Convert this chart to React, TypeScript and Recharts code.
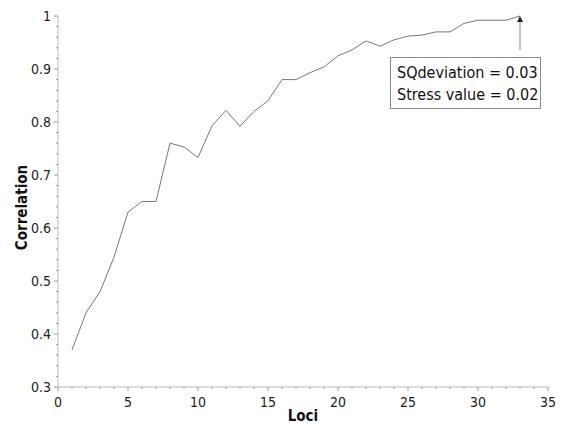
import React from "react";
import { LineChart, Line, XAxis, YAxis, ReferenceLine, ReferenceDot } from "recharts";

// loci count vs correlation
const loci = [1, 2, 3, 4, 5, 6, 7, 8, 9, 10, 11, 12, 13, 14, 15, 16, 17, 18, 19, 20, 21, 22, 23, 24, 25, 26, 27, 28, 29, 30, 31, 32, 33];
const correlation = [
    0.37, 0.44, 0.48, 0.545, 0.63, 0.65, 0.65, 0.76, 0.753, 0.733, 0.793, 0.822, 0.792, 0.82, 0.84, 0.88, 0.88,
    0.893, 0.904, 0.925, 0.936, 0.953, 0.943, 0.955, 0.962, 0.964, 0.97, 0.97, 0.986, 0.992, 0.992, 0.992, 1.0,
];

const xMajor = [0, 5, 10, 15, 20, 25, 30, 35];
const yMajor = [0.3, 0.4, 0.5, 0.6, 0.7, 0.8, 0.9, 1];
const yLabels = ["0.3", "0.4", "0.5", "0.6", "0.7", "0.8", "0.9", "1"];

const annotation = ["SQdeviation = 0.03", "Stress value = 0.02"];

// minor ticks: every 1 on x, every 0.02 on y
const xTicks: number[] = [];
for (let i = 0; i <= 35; i++) xTicks.push(i);
const yTicks: number[] = [];
for (let i = 0; i <= 35; i++) yTicks.push(Math.round((0.3 + i * 0.02) * 100) / 100);

const data = loci.map((l, i) => ({ locus: l, corr: correlation[i] }));

const FONT = "'DejaVu Sans Condensed', 'DejaVu Sans', sans-serif";

const XTick = (props: any) => {
    const { x, y, payload } = props;
    const major = xMajor.includes(payload.value);
    return (
        <g>
            <line x1={x} x2={x} y1={y} y2={y + (major ? 4 : 2)} stroke="#999" />
            {major && (
                <text x={x} y={y + 20} textAnchor="middle" fontSize={14} fill="#222" fontFamily={FONT}>
                    {payload.value}
                </text>
            )}
        </g>
    );
};

const YTick = (props: any) => {
    const { x, y, payload } = props;
    const idx = yMajor.findIndex((v) => Math.abs(v - payload.value) < 1e-6);
    const major = idx >= 0;
    return (
        <g>
            <line x1={x} x2={x - (major ? 4 : 2)} y1={y} y2={y} stroke="#999" />
            {major && (
                <text x={x - 7} y={y + 5} textAnchor="end" fontSize={14} fill="#222" fontFamily={FONT}>
                    {yLabels[idx]}
                </text>
            )}
        </g>
    );
};

const ArrowHead = (props: any) => {
    const { cx, cy } = props;
    return <polygon points={`${cx},${cy} ${cx - 3},${cy + 6} ${cx + 3},${cy + 6}`} fill="#222" />;
};

const App: React.FC = () => {
    return (
        <div style={{ position: "absolute", left: 0, top: 0, width: 563, height: 427, background: "#fff" }}>
            <LineChart width={563} height={427} data={data} margin={{ top: 16, right: 15, left: 0, bottom: 0 }}>
                <XAxis
                    type="number"
                    dataKey="locus"
                    domain={[0, 35]}
                    ticks={xTicks}
                    interval={0}
                    tickLine={false}
                    tickSize={0}
                    tickMargin={0}
                    tick={<XTick />}
                    stroke="#bbb"
                    height={40}
                    label={{ value: "Loci", position: "insideBottom", offset: 6, fontSize: 15, fontWeight: "bold", fill: "#111", fontFamily: FONT }}
                />
                <YAxis
                    type="number"
                    domain={[0.3, 1]}
                    ticks={yTicks}
                    interval={0}
                    tickLine={false}
                    tickSize={0}
                    tickMargin={0}
                    tick={<YTick />}
                    stroke="#bbb"
                    width={58}
                    label={{ value: "Correlation", angle: -90, position: "insideLeft", offset: 22, dy: 6, fontSize: 15, fontWeight: "bold", fill: "#111", fontFamily: FONT, style: { textAnchor: "middle" } }}
                />
                <Line type="linear" dataKey="corr" stroke="#777" strokeWidth={1} dot={false} isAnimationActive={false} />
                <ReferenceLine segment={[{ x: 33, y: 0.936 }, { x: 33, y: 0.99 }]} stroke="#888" />
                <ReferenceDot x={33} y={1} shape={<ArrowHead />} />
            </LineChart>
            <div
                style={{
                    position: "absolute",
                    left: 390,
                    top: 57,
                    width: 151,
                    height: 52,
                    border: "1px solid #888",
                    background: "#fff",
                    fontFamily: FONT,
                    fontSize: 16,
                    lineHeight: "22px",
                    color: "#111",
                    padding: "4px 0 0 6px",
                    boxSizing: "border-box",
                    whiteSpace: "nowrap",
                }}
            >
                {annotation.map((t) => (
                    <div key={t}>{t}</div>
                ))}
            </div>
        </div>
    );
};

export default App;
